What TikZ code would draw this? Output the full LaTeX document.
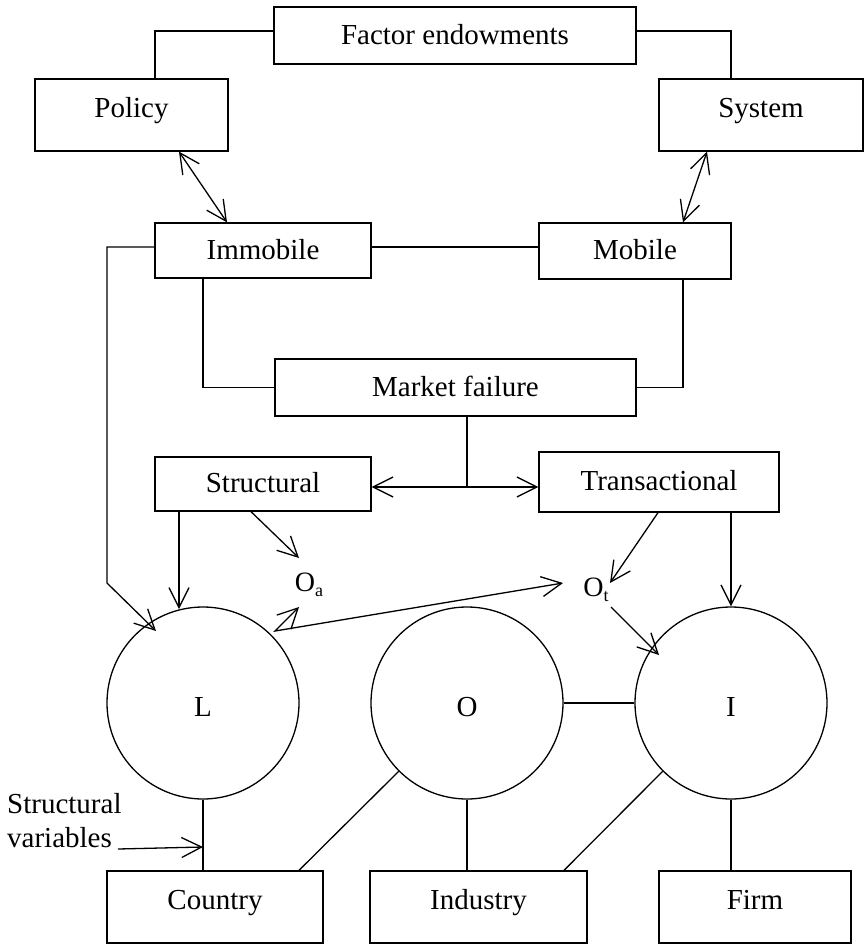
\documentclass[tikz,border=0pt]{standalone}
\usepackage{fontspec}
\setmainfont{Liberation Serif}
\usetikzlibrary{arrows.meta}
\begin{document}
\begin{tikzpicture}[x=1pt,y=-1pt,
  every node/.style={font=\fontsize{29}{34}\selectfont},
  box/.style={draw, line width=1.3pt, inner sep=0pt, text height=20pt, text depth=3pt},
  tallbox/.style={box, text depth=16pt},
  circ/.style={draw, circle, line width=1.3pt, minimum size=192pt, inner sep=0pt, text height=27pt, text depth=0pt},
  conn/.style={line width=1.3pt},
  arr/.style={conn, -{Straight Barb[length=20pt,width=20pt]}},
  darr/.style={conn, {Straight Barb[length=20pt,width=20pt]}-{Straight Barb[length=20pt,width=20pt]}},
  lbl/.style={font=\fontsize{28}{30}\selectfont, inner sep=0pt, anchor=base},
  side/.style={inner sep=0pt, anchor=base west}
]
\useasboundingbox (0,0) rectangle (867,945);

% boxes
\node[box, minimum width=362pt, minimum height=57pt] (fe) at (455,35.5) {Factor endowments};
\node[tallbox, minimum width=193pt, minimum height=72pt] (pol) at (131.5,115) {Policy};
\node[tallbox, minimum width=204pt, minimum height=72pt] (sys) at (761,115) {System};
\node[box, minimum width=216pt, minimum height=55pt] (imm) at (263,250.5) {Immobile};
\node[box, minimum width=192pt, minimum height=56pt] (mob) at (635,251) {Mobile};
\node[box, minimum width=361pt, minimum height=57pt] (mf) at (455.5,387.5) {Market failure};
\node[box, minimum width=216pt, minimum height=54pt] (str) at (263,484) {Structural};
\node[box, minimum width=240pt, minimum height=60pt] (tra) at (659,482) {Transactional};
\node[tallbox, minimum width=216pt, minimum height=72pt] (cou) at (215,907) {Country};
\node[tallbox, minimum width=217pt, minimum height=72pt] (ind) at (478.5,907) {Industry};
\node[tallbox, minimum width=192pt, minimum height=72pt] (firm) at (755,907) {Firm};

% circles
\node[circ] (L) at (203,703) {L};
\node[circ] (O) at (467,703) {O};
\node[circ] (I) at (731,703) {I};

% labels
\node[lbl] (oa) at (309,591) {O\raisebox{-5pt}{\fontsize{18}{18}\selectfont a}};
\node[lbl] (ot) at (596,596) {O\raisebox{-5pt}{\fontsize{18}{18}\selectfont t}};
\node[side] (sv1) at (7,813) {Structural};
\node[side] (sv2) at (7,847) {variables};

% helper coordinates
\coordinate (feW) at ([yshift=4.5pt]fe.west);
\coordinate (feE) at ([yshift=4.5pt]fe.east);
\coordinate (polN) at ([xshift=23.5pt]pol.north);
\coordinate (sysN) at ([xshift=-30pt]sys.north);
\coordinate (polS) at ([xshift=47.5pt]pol.south);
\coordinate (immN) at ([xshift=-36pt]imm.north);
\coordinate (sysS) at ([xshift=-54pt]sys.south);
\coordinate (mobN) at ([xshift=48pt]mob.north);
\coordinate (immE) at ([yshift=3.5pt]imm.east);
\coordinate (immW) at ([yshift=3.5pt]imm.west);
\coordinate (immS) at ([xshift=-60pt]imm.south);
\coordinate (mobS) at ([xshift=48pt]mob.south);
\coordinate (mfS) at ([xshift=11.5pt]mf.south);
\coordinate (strE) at ([yshift=-3pt]str.east);
\coordinate (strS1) at ([xshift=-84pt]str.south);
\coordinate (strS2) at ([xshift=-12pt]str.south);
\coordinate (traS1) at ([xshift=-1pt]tra.south);
\coordinate (traS2) at ([xshift=72pt]tra.south);
\coordinate (couN) at ([xshift=84pt]cou.north);
\coordinate (indN) at ([xshift=85.5pt]ind.north);
\coordinate (bend) at (107,583);
\coordinate (ltip) at (156,631);
\coordinate (ltop) at (179,609);
\coordinate (oatip) at (299,558);
\coordinate (ottip) at (610,583);
\coordinate (otl) at (563,583);
\coordinate (lc) at (275,631);
\coordinate (lhead) at (299,607);
\coordinate (ots) at (611,607);
\coordinate (itip) at (659,655);
\coordinate (sva) at (118,849);
\coordinate (svb) at (203,847);

% connectors
\draw[conn] (feW) -| (polN);
\draw[conn] (feE) -| (sysN);
\draw[darr] (polS) -- (immN);
\draw[darr] (sysS) -- (mobN);
\draw[conn] (immE) -- (immE -| mob.west);
\draw[conn] (immS) |- (mf.west);
\draw[conn] (mobS) |- (mf.east);
\draw[conn] (mfS) -- (mfS |- strE);
\draw[darr] (strE) -- (strE -| tra.west);
\draw[arr] (immW) -| (bend) -- (ltip);
\draw[arr] (strS1) -- (ltop);
\draw[arr] (strS2) -- (oatip);
\draw[arr] (traS1) -- (ottip);
\draw[arr] (traS2) -- (I.north);
\draw[arr] (ots) -- (itip);
\draw[darr] (otl) -- (lc) -- (lhead);
\draw[conn] (O.east) -- (I.west);
\draw[conn] (L.south) -- (L.south |- cou.north);
\draw[conn] (O.south) -- (O.south |- ind.north);
\draw[conn] (I.south) -- (I.south |- firm.north);
\draw[conn] (couN) -- (O.225);
\draw[conn] (indN) -- (I.225);
\draw[arr] (sva) -- (svb);
\end{tikzpicture}
\end{document}
